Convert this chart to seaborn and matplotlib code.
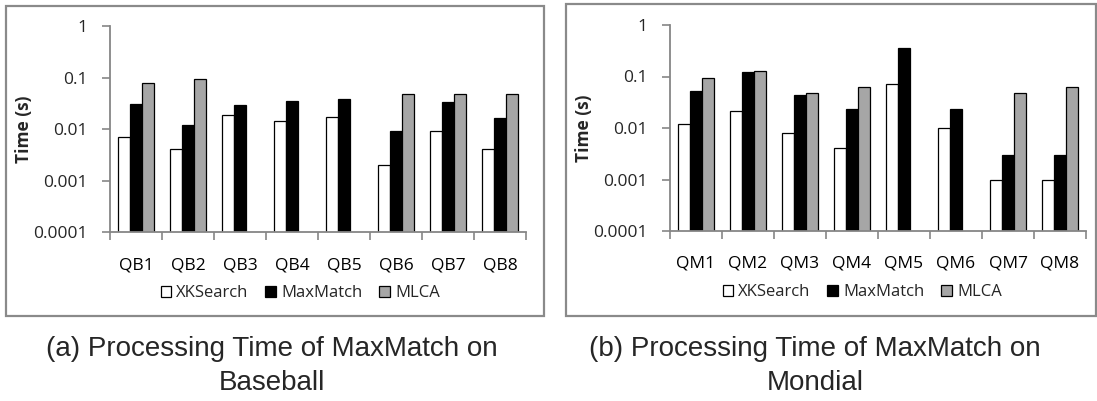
import numpy as np
import pandas as pd
import matplotlib
matplotlib.use("Agg")
import matplotlib.pyplot as plt
from matplotlib.patches import Rectangle
from matplotlib.ticker import FixedLocator, NullFormatter
import seaborn as sns

# ----- data -----
methods = ["XKSearch", "MaxMatch", "MLCA"]

baseball_queries = ["QB1", "QB2", "QB3", "QB4", "QB5", "QB6", "QB7", "QB8"]
baseball_xksearch = [0.007, 0.004, 0.019, 0.014, 0.017, 0.002, 0.009, 0.004]
baseball_maxmatch = [0.031, 0.012, 0.029, 0.035, 0.039, 0.009, 0.034, 0.016]
baseball_mlca = [0.079, 0.094, np.nan, np.nan, np.nan, 0.047, 0.047, 0.047]

mondial_queries = ["QM1", "QM2", "QM3", "QM4", "QM5", "QM6", "QM7", "QM8"]
mondial_xksearch = [0.012, 0.021, 0.008, 0.004, 0.071, 0.010, 0.001, 0.001]
mondial_maxmatch = [0.053, 0.120, 0.043, 0.023, 0.360, 0.023, 0.003, 0.003]
mondial_mlca = [0.094, 0.127, 0.047, 0.062, np.nan, np.nan, 0.047, 0.062]

y_ticks = [0.0001, 0.001, 0.01, 0.1, 1]
y_tick_labels = ["0.0001", "0.001", "0.01", "0.1", "1"]

captions = ["(a) Processing Time of MaxMatch on\nBaseball",
            "(b) Processing Time of MaxMatch on\nMondial"]

palette = {"XKSearch": "#ffffff", "MaxMatch": "#000000", "MLCA": "#a6a6a6"}
AXIS_GREY = "#868686"
FS = 12.5


def to_long(queries, xk, mm, mlca):
    return pd.DataFrame({
        "query": queries * 3,
        "method": np.repeat(methods, len(queries)),
        "time": list(xk) + list(mm) + list(mlca),
    })


sns.set_theme(style="white")
plt.rcParams["font.family"] = ["Open Sans", "DejaVu Sans"]

W, H = 1097, 401
fig = plt.figure(figsize=(W / 100, H / 100), dpi=100)


def px_axes(x0, x1, ytop, ybot):
    return fig.add_axes([x0 / W, 1 - ybot / H, (x1 - x0) / W, (ybot - ytop) / H])


# (data, axes, frame box in px, legend centre x in axes fraction, caption centre x in px)
panels = [
    (to_long(baseball_queries, baseball_xksearch, baseball_maxmatch, baseball_mlca),
     px_axes(110, 526, 26, 232), (6, 6, 544, 316), 0.457, 272),
    (to_long(mondial_queries, mondial_xksearch, mondial_maxmatch, mondial_mlca),
     px_axes(670, 1086, 25, 231), (566, 4, 1096, 316), 0.462, 815),
]

for (df, ax, box, leg_x, cap_x), cap in zip(panels, captions):
    # outer frame around each panel
    bx0, by0, bx1, by1 = box
    fig.patches.append(Rectangle((bx0 / W, 1 - by1 / H), (bx1 - bx0) / W, (by1 - by0) / H,
                                 transform=fig.transFigure, fill=False,
                                 edgecolor="#8a8a8a", linewidth=1.6, zorder=0))

    ax.set_yscale("log")
    sns.barplot(data=df, x="query", y="time", hue="method", palette=palette,
                hue_order=methods, edgecolor="black", linewidth=0.9,
                width=0.68, errorbar=None, ax=ax)
    ax.set_ylim(1e-4, 1)
    ax.set_xlim(-0.5, 7.5)
    ax.yaxis.set_major_locator(FixedLocator(y_ticks))
    ax.yaxis.set_minor_locator(FixedLocator([]))
    ax.set_yticklabels(y_tick_labels)
    ax.xaxis.set_minor_locator(FixedLocator(np.arange(-0.5, 8, 1)))
    ax.xaxis.set_minor_formatter(NullFormatter())

    for side in ["top", "right"]:
        ax.spines[side].set_visible(False)
    for side in ["left", "bottom"]:
        ax.spines[side].set_color(AXIS_GREY)
        ax.spines[side].set_linewidth(1.3)

    ax.tick_params(axis="x", which="major", length=0, pad=18, labelsize=FS, colors="black")
    ax.tick_params(axis="x", which="minor", bottom=True, length=6, width=1.2, color=AXIS_GREY)
    ax.tick_params(axis="y", which="major", left=True, length=6, width=1.2,
                   color=AXIS_GREY, pad=10, labelsize=FS)

    ax.set_xlabel("")
    ax.set_ylabel("Time (s)", fontsize=FS, fontweight="bold")
    ax.yaxis.set_label_coords(-77 / 416, 0.5)

    handles, labels = ax.get_legend_handles_labels()
    ax.legend(handles, labels, loc="center", bbox_to_anchor=(leg_x, -0.296),
              ncol=3, frameon=False, fontsize=12, handlelength=0.65, handleheight=0.65,
              handletextpad=0.3, columnspacing=1.0, borderaxespad=0, borderpad=0)

    fig.text(cap_x / W, 1 - 366 / H, cap, ha="center", va="center",
             fontsize=20, family=["Liberation Sans", "DejaVu Sans"],
             linespacing=1.42)

fig.savefig("out.png", dpi=100, facecolor="white")
